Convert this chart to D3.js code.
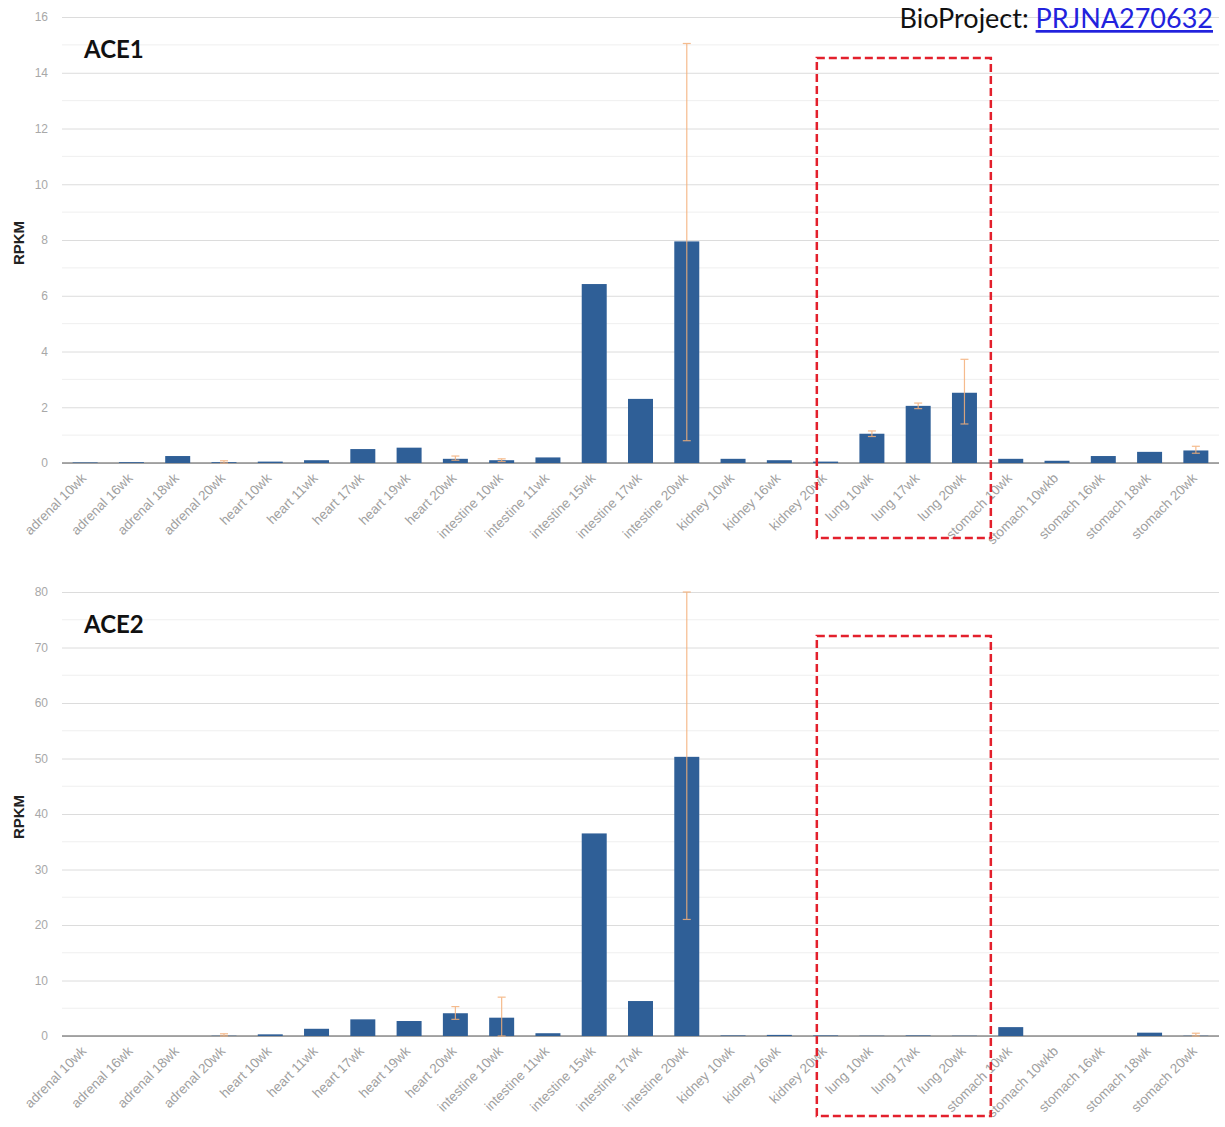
<!DOCTYPE html>
<html>
<head>
<meta charset="utf-8">
<script src="https://cdn.jsdelivr.net/npm/d3@7"></script>
<style>
  body { margin: 0; background: #fff; }
  svg { font-family: "Liberation Sans", Arial, sans-serif; }
</style>
</head>
<body>
<div id="chart"></div>
<script>
var svgWidth = 1225;
var svgHeight = 1127;

// sample names (x axis)
var samples = [
  "adrenal 10wk", "adrenal 16wk", "adrenal 18wk", "adrenal 20wk",
  "heart 10wk", "heart 11wk", "heart 17wk", "heart 19wk", "heart 20wk",
  "intestine 10wk", "intestine 11wk", "intestine 15wk", "intestine 17wk", "intestine 20wk",
  "kidney 10wk", "kidney 16wk", "kidney 20wk",
  "lung 10wk", "lung 17wk", "lung 20wk",
  "stomach 10wk", "stomach 10wkb", "stomach 16wk", "stomach 18wk", "stomach 20wk"
];

// ACE1 RPKM
var ace1 = [0.02, 0.03, 0.25, 0.03, 0.05, 0.1, 0.5, 0.55, 0.15, 0.1, 0.2, 6.42, 2.3, 7.95,
  0.15, 0.1, 0.05, 1.05, 2.05, 2.52, 0.15, 0.08, 0.25, 0.4, 0.45];
var ace1Low = [null, null, null, 0.0, null, null, null, null, 0.1, 0.05, null, null, null, 0.8,
  null, null, null, 0.95, 1.95, 1.4, null, null, null, null, 0.35];
var ace1High = [null, null, null, 0.08, null, null, null, null, 0.25, 0.15, null, null, null, 15.05,
  null, null, null, 1.15, 2.15, 3.72, null, null, null, null, 0.6];
var ace1Ticks = [0, 2, 4, 6, 8, 10, 12, 14, 16];

// ACE2 RPKM
var ace2 = [0, 0, 0, 0.05, 0.3, 1.3, 3.0, 2.7, 4.1, 3.3, 0.5, 36.5, 6.3, 50.3,
  0.1, 0.2, 0.1, 0.05, 0.1, 0.05, 1.6, 0, 0, 0.6, 0.05];
var ace2Low = [null, null, null, 0, null, null, null, null, 3.0, 0, null, null, null, 21,
  null, null, null, null, null, null, null, null, null, null, 0];
var ace2High = [null, null, null, 0.4, null, null, null, null, 5.3, 7.0, null, null, null, 80,
  null, null, null, null, null, null, null, null, null, null, 0.5];
var ace2Ticks = [0, 10, 20, 30, 40, 50, 60, 70, 80];

var panels = [
  { name: "ACE1", values: ace1, low: ace1Low, high: ace1High, ticks: ace1Ticks, max: 16, top: 17, bottom: 463, boxTop: 58 },
  { name: "ACE2", values: ace2, low: ace2Low, high: ace2High, ticks: ace2Ticks, max: 80, top: 592, bottom: 1036, boxTop: 636 }
];

var barColor = "#2f5f97";
var errColor = "#f4b07a";

var svg = d3.select("#chart")
  .append("svg")
  .attr("width", svgWidth)
  .attr("height", svgHeight);

svg.append("rect")
  .attr("width", "100%")
  .attr("height", "100%")
  .attr("fill", "#fff");

var x = d3.scaleBand()
  .domain(samples)
  .range([62, 1219])
  .paddingInner(0.46)
  .paddingOuter(0.23);

panels.forEach(function(p) {
  var y = d3.scaleLinear()
    .domain([0, p.max])
    .range([p.bottom, p.top]);

  var g = svg.append("g");

  // minor gridlines (between majors)
  var step = p.ticks[1] - p.ticks[0];
  var minor = p.ticks.slice(0, -1).map(function(t) { return t + step / 2; });
  g.selectAll(".minor")
    .data(minor)
    .enter()
    .append("line")
    .attr("x1", 62).attr("x2", 1219)
    .attr("y1", d => y(d)).attr("y2", d => y(d))
    .attr("stroke", "#efefef")
    .attr("stroke-width", 1);

  // y axis with gridlines
  var yAxis = d3.axisLeft(y)
    .tickValues(p.ticks)
    .tickSize(-(1219 - 62))
    .tickPadding(14);

  var ya = g.append("g")
    .attr("transform", "translate(62,0)")
    .call(yAxis);
  ya.select(".domain").remove();
  ya.selectAll(".tick line").attr("stroke", "#dcdcdc");
  ya.selectAll(".tick text")
    .attr("fill", "#a8a8a8")
    .style("font-size", "12px");

  // baseline
  g.append("line")
    .attr("x1", 62).attr("x2", 1219)
    .attr("y1", y(0)).attr("y2", y(0))
    .attr("stroke", "#8c8c8c")
    .attr("stroke-width", 1.5);

  // bars
  g.selectAll(".bar")
    .data(p.values)
    .enter()
    .append("rect")
    .attr("x", (d, i) => x(samples[i]))
    .attr("width", x.bandwidth())
    .attr("y", d => y(d))
    .attr("height", d => y(0) - y(d))
    .attr("fill", barColor);

  // error bars
  var errs = p.values.map(function(v, i) {
    return { name: samples[i], lo: p.low[i], hi: p.high[i] };
  }).filter(d => d.hi !== null);

  var eg = g.selectAll(".err")
    .data(errs)
    .enter()
    .append("g")
    .attr("stroke", errColor)
    .attr("stroke-width", 1.2)
    .attr("opacity", 0.85);
  eg.append("line")
    .attr("x1", d => x(d.name) + x.bandwidth() / 2)
    .attr("x2", d => x(d.name) + x.bandwidth() / 2)
    .attr("y1", d => y(d.lo))
    .attr("y2", d => y(d.hi));
  eg.append("line")
    .attr("x1", d => x(d.name) + x.bandwidth() / 2 - 4)
    .attr("x2", d => x(d.name) + x.bandwidth() / 2 + 4)
    .attr("y1", d => y(d.hi))
    .attr("y2", d => y(d.hi));
  eg.append("line")
    .attr("x1", d => x(d.name) + x.bandwidth() / 2 - 4)
    .attr("x2", d => x(d.name) + x.bandwidth() / 2 + 4)
    .attr("y1", d => y(d.lo))
    .attr("y2", d => y(d.lo));

  // x labels, rotated
  g.selectAll(".xlab")
    .data(samples)
    .enter()
    .append("text")
    .attr("transform", d => `translate(${x(d) + x.bandwidth() / 2 + 2}, ${p.bottom + 16}) rotate(-45)`)
    .attr("text-anchor", "end")
    .attr("fill", "#a0a0a0")
    .style("font-size", "13.5px")
    .text(d => d);

  // y label
  g.append("text")
    .attr("transform", `translate(24, ${(p.top + p.bottom) / 2 + 3}) rotate(-90)`)
    .attr("text-anchor", "middle")
    .style("font-size", "15px")
    .style("font-weight", "bold")
    .attr("fill", "#222")
    .text("RPKM");

  // panel title
  g.append("text")
    .attr("x", 84)
    .attr("y", p.top + 41)
    .style("font-family", "Lato, 'Open Sans', sans-serif")
    .style("font-size", "24px")
    .style("font-weight", "bold")
    .attr("fill", "#111")
    .text(p.name);

  // red dashed highlight around lung samples
  var left = x("lung 10wk") - x.step() * 0.92;
  var right = x("lung 20wk") + x.bandwidth() + x.step() * 0.3;
  g.append("rect")
    .attr("x", left)
    .attr("y", p.boxTop)
    .attr("width", right - left)
    .attr("height", 480)
    .attr("fill", "none")
    .attr("stroke", "#e3202c")
    .attr("stroke-width", 2.5)
    .attr("stroke-dasharray", "8,4");
});

// source note
var note = svg.append("text")
  .attr("x", 1213)
  .attr("y", 28)
  .attr("text-anchor", "end")
  .style("font-family", "Lato, 'Open Sans', sans-serif")
  .style("font-size", "27px")
  .attr("fill", "#111");
note.append("tspan").text("BioProject: ");
note.append("tspan")
  .attr("fill", "#2222dd")
  .style("text-decoration", "underline")
  .text("PRJNA270632");
</script>
</body>
</html>
